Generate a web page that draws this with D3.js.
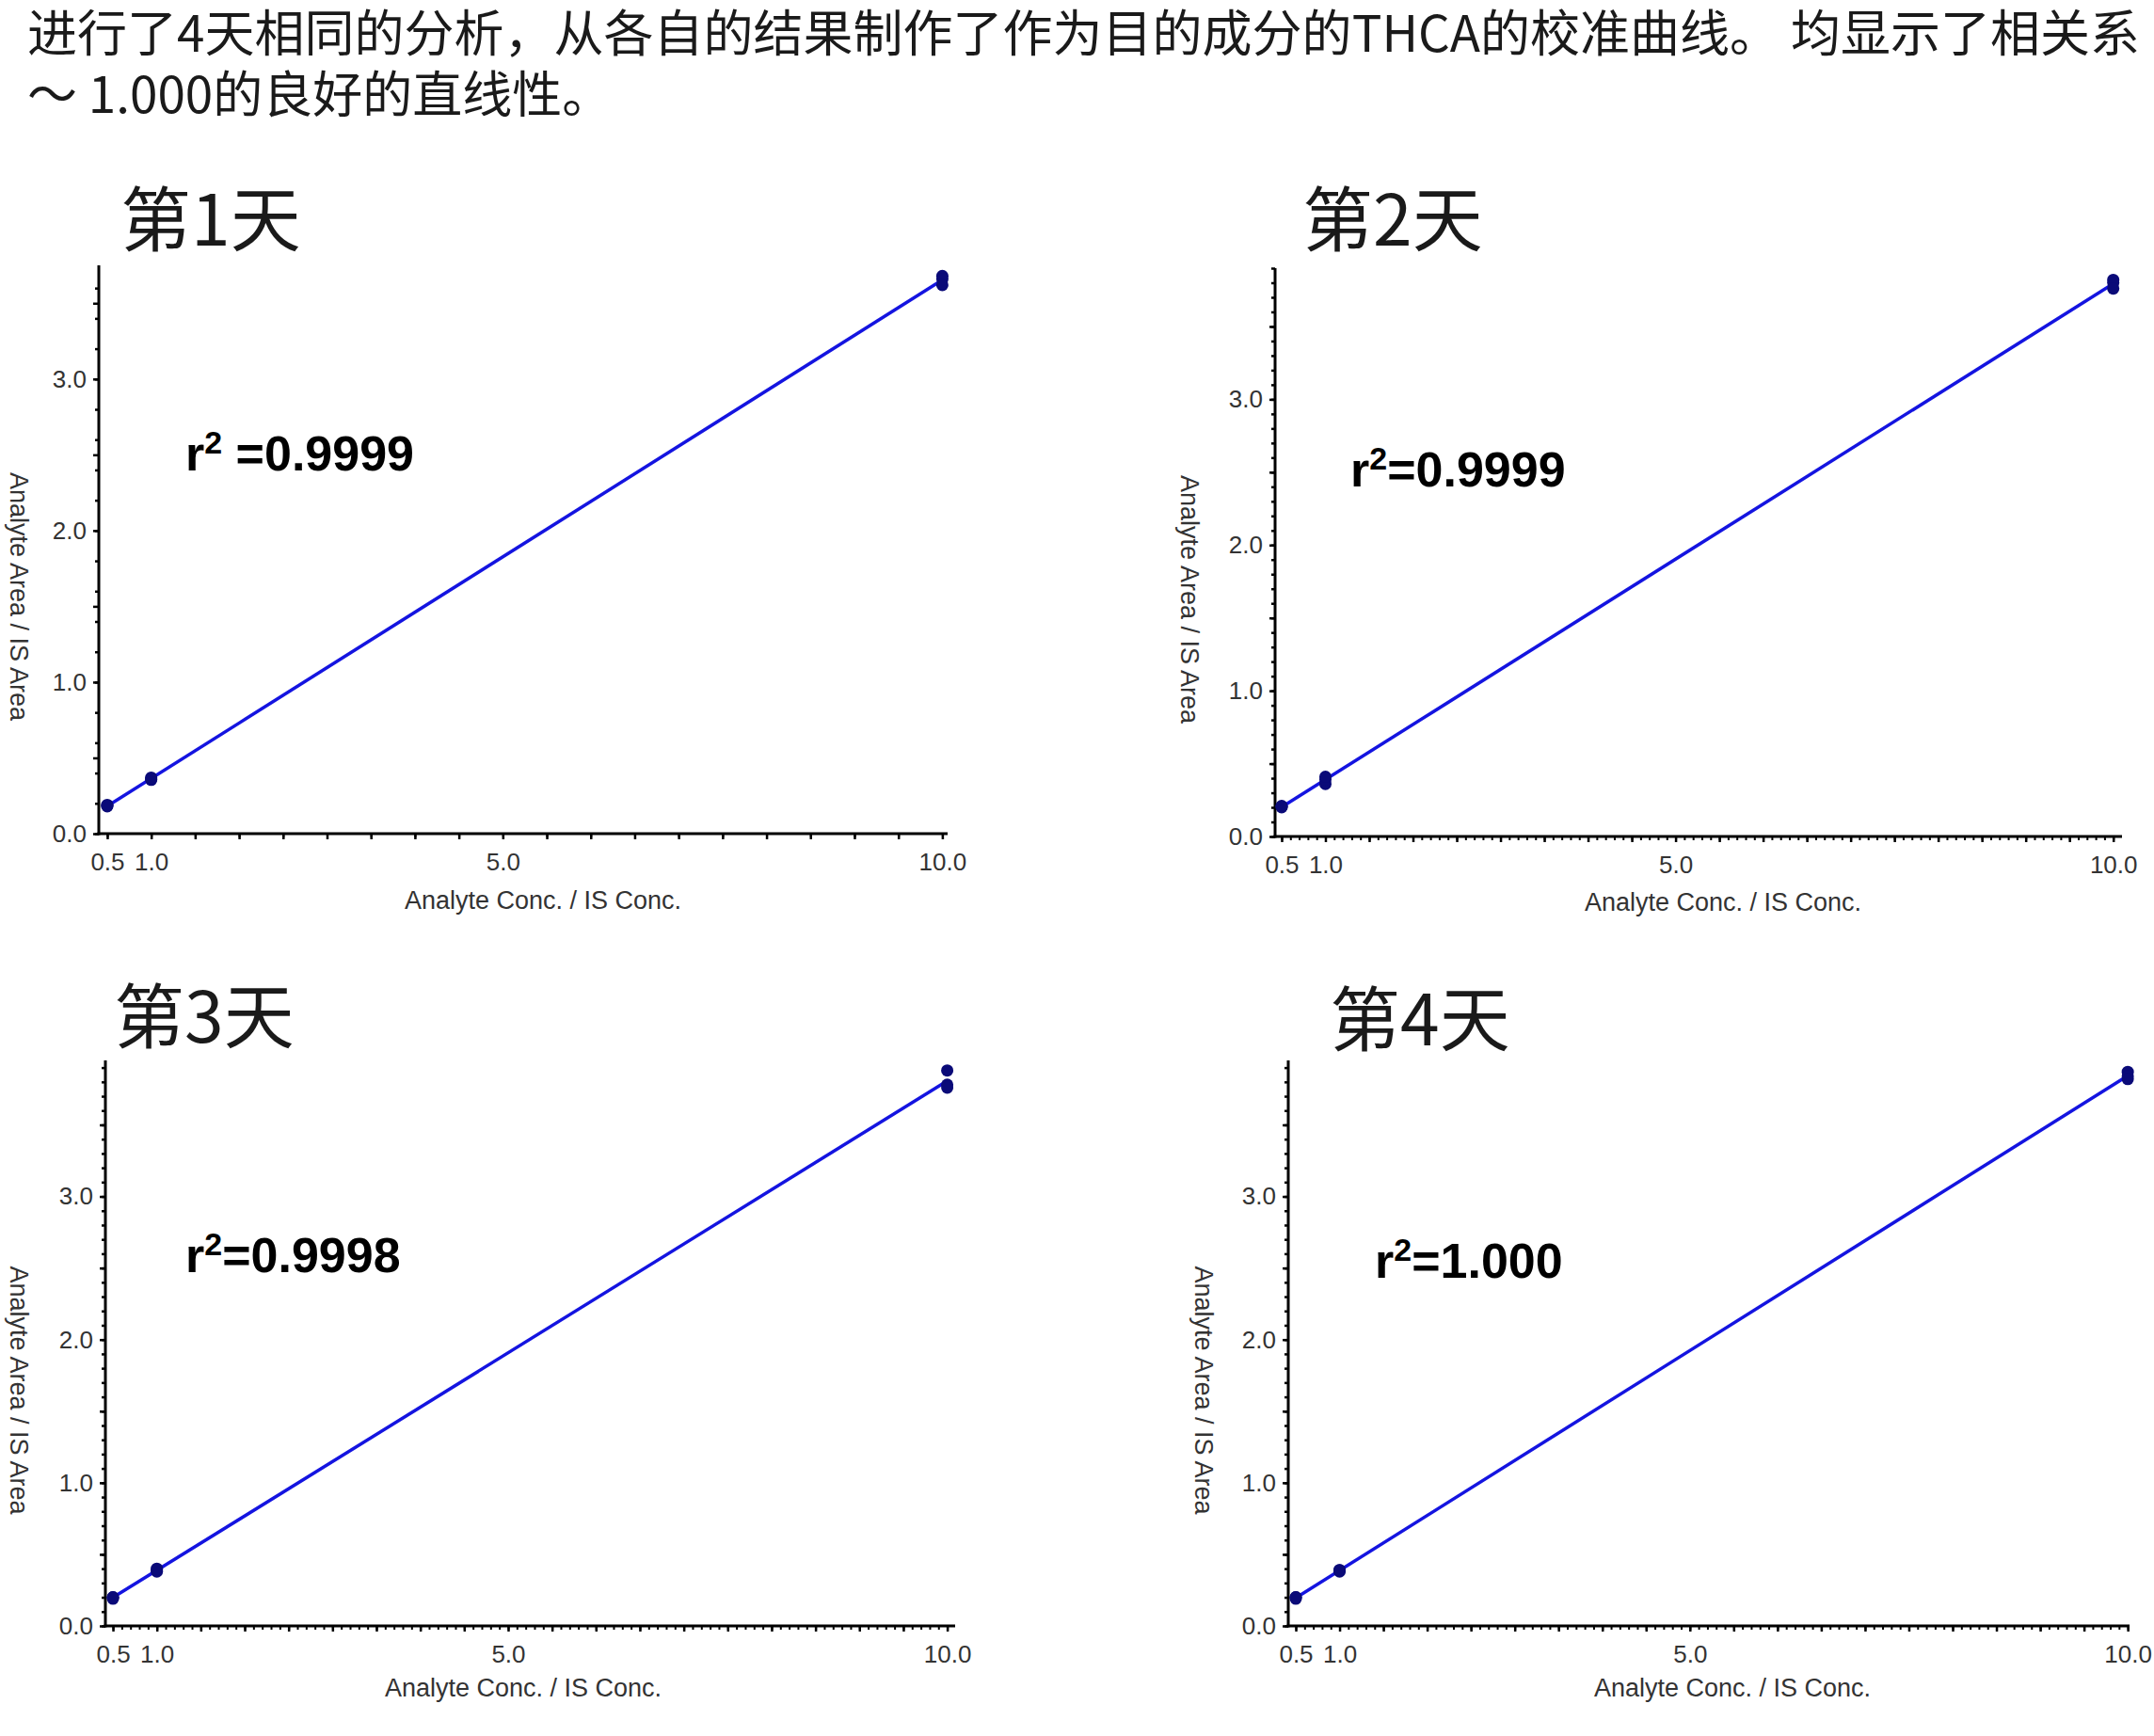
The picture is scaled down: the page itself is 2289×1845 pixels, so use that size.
<!DOCTYPE html>
<html>
<head>
<meta charset="utf-8">
<script src="https://cdn.jsdelivr.net/npm/d3@7"></script>
<style>
  html, body { margin: 0; padding: 0; background: #fff; }
  svg { display: block; }
</style>
</head>
<body>
<svg id="chart" width="2289" height="1845"></svg>
<script>
// ---------- data ----------
const introLines = [
  "进行了4天相同的分析，从各自的结果制作了作为目的成分的THCA的校准曲线。 均显示了相关系",
  "～ 1.000的良好的直线性。"
];
const dayTitles = ["第1天", "第2天", "第3天", "第4天"];
const r2Rest = [" =0.9999", "=0.9999", "=0.9998", "=1.000"];
const xTickLabels = [0.5, 1.0, 5.0, 10.0];
const yTickLabels = [0.0, 1.0, 2.0, 3.0];
const xAxisTitle = "Analyte Conc. / IS Conc.";
const yAxisTitle = "Analyte Area / IS Area";

// concentration levels (replicates)
const conc = [0.5, 0.5, 0.5, 1.0, 1.0, 1.0, 10.0, 10.0, 10.0];
// area ratio responses per day
const day1 = [0.18, 0.185, 0.19, 0.355, 0.36, 0.37, 3.68, 3.66, 3.62];
const day2 = [0.20, 0.205, 0.21, 0.36, 0.39, 0.41, 3.82, 3.80, 3.76];
const day3 = [0.19, 0.20, 0.20, 0.38, 0.39, 0.40, 3.88, 3.78, 3.76];
const day4 = [0.19, 0.20, 0.20, 0.38, 0.39, 0.39, 3.87, 3.84, 3.82];
const responses = [day1, day2, day3, day4];

// ---------- layout ----------
const panels = [
  { left: 105,  right: 1007, top: 282,  bottom: 886,  xDom: [0.404, 10.06], yDom: [0, 3.75], minorX: 0.5, minorY: 0.2,
    title: [128, 261], r2: [197, 500], yTitleX: 20, xTitleX: 577, xTitleY: 966 },
  { left: 1355, right: 2255, top: 285,  bottom: 889,  xDom: [0.425, 10.1],  yDom: [0, 3.9],  minorX: 0.1, minorY: 0.1,
    title: [1384, 261], r2: [1435, 517], yTitleX: 1264, xTitleX: 1831, xTitleY: 968 },
  { left: 112,  right: 1015, top: 1127, bottom: 1728, xDom: [0.414, 10.09], yDom: [0, 3.95], minorX: 0.1, minorY: 0.1,
    title: [121, 1108], r2: [197, 1352], yTitleX: 20, xTitleX: 556, xTitleY: 1803 },
  { left: 1369, right: 2263, top: 1127, bottom: 1728, xDom: [0.414, 10.02], yDom: [0, 3.95], minorX: 0.1, minorY: 0.1,
    title: [1413, 1111], r2: [1461, 1358], yTitleX: 1279, xTitleX: 1841, xTitleY: 1803 }
];

const svg = d3.select("#chart");
svg.append("rect").attr("width", 2289).attr("height", 1845).attr("fill", "#fff");

const cjk = "'Noto Sans CJK SC', 'Noto Sans', sans-serif";
const latin = "'Liberation Sans', Arial, sans-serif";

// intro text
const introWidths = [2245, null];
svg.selectAll("text.intro").data(introLines).join("text")
  .attr("class", "intro")
  .attr("x", 29)
  .attr("y", (d, i) => 55 + i * 65)
  .attr("font-family", cjk)
  .attr("font-size", 53)
  .attr("fill", "#1a1a1a")
  .each(function (d, i) {
    if (introWidths[i]) d3.select(this).attr("textLength", introWidths[i]).attr("lengthAdjust", "spacingAndGlyphs");
  })
  .text(d => d);

function linreg(xs, ys) {
  const mx = d3.mean(xs), my = d3.mean(ys);
  let sxy = 0, sxx = 0;
  xs.forEach((x, i) => { sxy += (x - mx) * (ys[i] - my); sxx += (x - mx) * (x - mx); });
  const b = sxy / sxx;
  return { slope: b, intercept: my - b * mx };
}

const range = (a, b, s) => {
  const out = [];
  for (let k = 0; a + k * s <= b + 1e-9; k++) out.push(+(a + k * s).toFixed(3));
  return out;
};

panels.forEach((p, i) => {
  const g = svg.append("g");
  const x = d3.scaleLinear().domain(p.xDom).range([p.left, p.right]);
  const y = d3.scaleLinear().domain(p.yDom).range([p.bottom, p.top]);

  // Title
  g.append("text")
    .attr("x", p.title[0]).attr("y", p.title[1])
    .attr("font-family", cjk).attr("font-size", 75).attr("fill", "#1a1a1a")
    .text(dayTitles[i]);

  // minor ticks x
  const xMinor = range(0.5, 10, p.minorX);
  const xMajorSmall = range(0.5, 10, 0.5);
  g.append("g").attr("transform", `translate(0,${p.bottom})`)
    .call(d3.axisBottom(x).tickValues(xMinor).tickSize(4).tickFormat("").tickSizeOuter(0))
    .call(a => a.select(".domain").remove())
    .call(a => a.selectAll("line").attr("stroke", "#000").attr("stroke-width", 2));
  g.append("g").attr("transform", `translate(0,${p.bottom})`)
    .call(d3.axisBottom(x).tickValues(xMajorSmall).tickSize(6).tickFormat("").tickSizeOuter(0))
    .call(a => a.select(".domain").remove())
    .call(a => a.selectAll("line").attr("stroke", "#000").attr("stroke-width", 2.5));

  // minor ticks y
  const yMinor = range(0, p.yDom[1], p.minorY);
  g.append("g").attr("transform", `translate(${p.left},0)`)
    .call(d3.axisLeft(y).tickValues(yMinor).tickSize(4).tickFormat("").tickSizeOuter(0))
    .call(a => a.select(".domain").remove())
    .call(a => a.selectAll("line").attr("stroke", "#000").attr("stroke-width", 2.5));
  g.append("g").attr("transform", `translate(${p.left},0)`)
    .call(d3.axisLeft(y).tickValues(range(0, p.yDom[1], 0.5)).tickSize(6).tickFormat("").tickSizeOuter(0))
    .call(a => a.select(".domain").remove())
    .call(a => a.selectAll("line").attr("stroke", "#000").attr("stroke-width", 2.5));

  // label axes
  g.append("g").attr("transform", `translate(0,${p.bottom})`)
    .call(d3.axisBottom(x).tickValues(xTickLabels).tickSize(0).tickPadding(21).tickFormat(d3.format(".1f")))
    .call(a => a.select(".domain").remove())
    .call(a => a.selectAll("text").attr("font-family", latin).attr("font-size", 26).attr("fill", "#333"));
  g.append("g").attr("transform", `translate(${p.left},0)`)
    .call(d3.axisLeft(y).tickValues(yTickLabels).tickSize(0).tickPadding(13).tickFormat(d3.format(".1f")))
    .call(a => a.select(".domain").remove())
    .call(a => a.selectAll("text").attr("font-family", latin).attr("font-size", 26).attr("fill", "#333"));

  // axis lines
  g.append("line").attr("x1", p.left).attr("x2", p.left).attr("y1", p.top).attr("y2", p.bottom + 1.5)
    .attr("stroke", "#000").attr("stroke-width", 3);
  g.append("line").attr("x1", p.left - 1.5).attr("x2", p.right).attr("y1", p.bottom).attr("y2", p.bottom)
    .attr("stroke", "#000").attr("stroke-width", 3);

  // axis titles
  g.append("text")
    .attr("x", p.xTitleX).attr("y", p.xTitleY)
    .attr("text-anchor", "middle")
    .attr("font-family", latin).attr("font-size", 27).attr("fill", "#333")
    .text(xAxisTitle);
  const yc = (p.top + p.bottom) / 2 + 50;
  g.append("text")
    .attr("transform", `translate(${p.yTitleX},${yc}) rotate(90)`)
    .attr("text-anchor", "middle").attr("dominant-baseline", "central")
    .attr("font-family", latin).attr("font-size", 27).attr("fill", "#333")
    .text(yAxisTitle);

  // regression line
  const ys = responses[i];
  const fit = linreg(conc, ys);
  const ends = [0.5, 10];
  g.append("line")
    .attr("x1", x(ends[0])).attr("y1", y(fit.intercept + fit.slope * ends[0]))
    .attr("x2", x(ends[1])).attr("y2", y(fit.intercept + fit.slope * ends[1]))
    .attr("stroke", "#1414e0").attr("stroke-width", 3.5);

  // points
  g.selectAll("circle").data(conc.map((c, k) => [c, ys[k]])).join("circle")
    .attr("cx", d => x(d[0])).attr("cy", d => y(d[1]))
    .attr("r", 6.5).attr("fill", "#0a0a78");

  // r² annotation
  const t = g.append("text")
    .attr("x", p.r2[0]).attr("y", p.r2[1])
    .attr("font-family", latin).attr("font-weight", "bold").attr("font-size", 52).attr("fill", "#000");
  t.append("tspan").text("r");
  t.append("tspan").attr("font-size", 34).attr("dy", -18).text("2");
  t.append("tspan").attr("dy", 18).text(r2Rest[i]);
});
</script>
</body>
</html>
